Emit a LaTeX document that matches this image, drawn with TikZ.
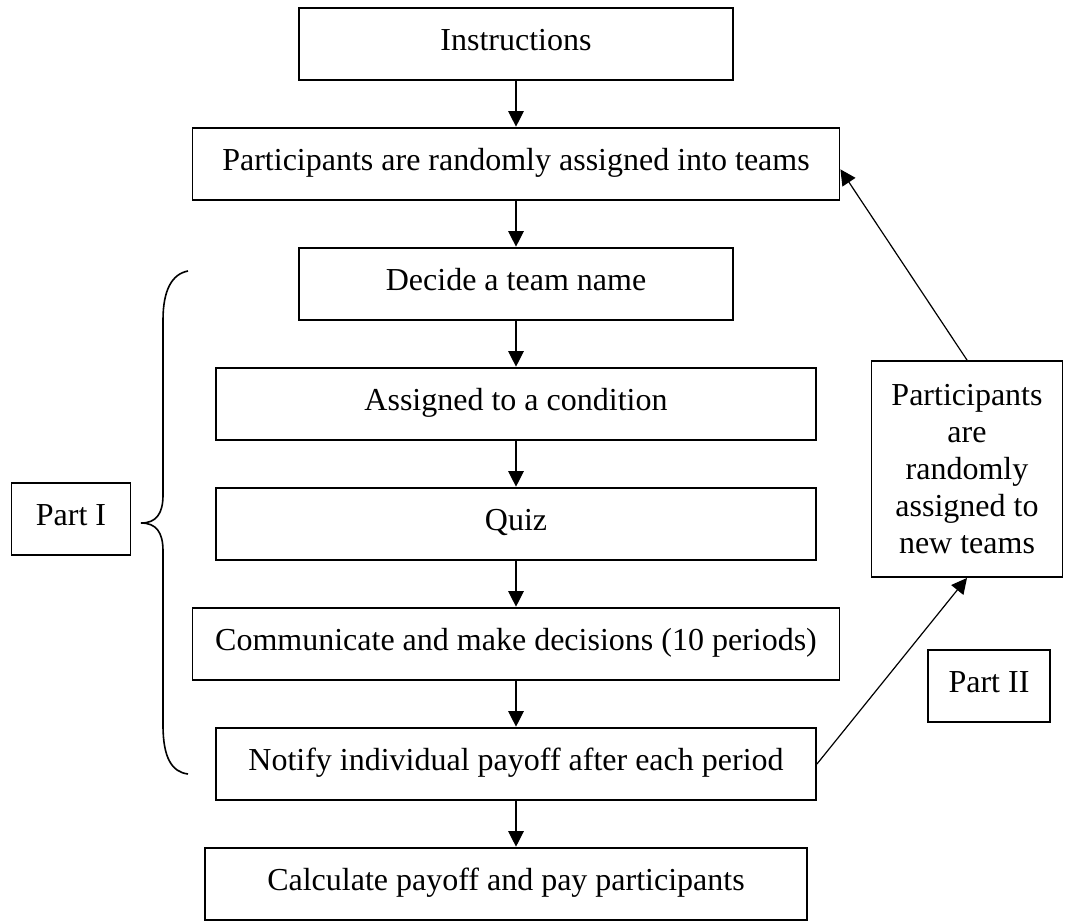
\documentclass[tikz,border=0pt]{standalone}
\usepackage{fontspec}
\setmainfont{Liberation Serif}
\usetikzlibrary{arrows.meta}

\begin{document}
\begin{tikzpicture}[x=0.375pt, y=-0.375pt,
    font=\fontsize{12}{13.9}\selectfont,
    boxline/.style={draw, line width=0.7pt, inner sep=0pt},
    stepbox/.style={boxline, minimum height=27.3pt, text height=8pt, text depth=3.5pt},
    flow/.style={-{Triangle[length=5.8pt,width=5.8pt]}, line width=0.45pt}]

  \useasboundingbox (0,0) rectangle (1065,922);

  % Main column of steps
  \node[stepbox, minimum width=162.8pt] (instr)  at (516,44)  {Instructions};
  \node[stepbox, minimum width=242.6pt] (teams)  at (516,164) {Participants are randomly assigned into teams};
  \node[stepbox, minimum width=162.8pt] (name)   at (516,284) {Decide a team name};
  \node[stepbox, minimum width=225pt]   (cond)   at (516,404) {Assigned to a condition};
  \node[stepbox, minimum width=225pt]   (quiz)   at (516,524) {Quiz};
  \node[stepbox, minimum width=242.6pt] (comm)   at (516,644) {Communicate and make decisions (10 periods)};
  \node[stepbox, minimum width=225pt]   (notify) at (516,764) {Notify individual payoff after each period};
  \node[stepbox, minimum width=226pt]   (calc)   at (506,884) {Calculate payoff and pay participants};

  % Side boxes
  \node[boxline, minimum width=71.6pt, minimum height=81pt, align=center] (regroup) at (967,469)
    {Participants\\are\\randomly\\assigned to\\new teams};
  \node[stepbox, minimum width=44.6pt] (part1) at (71,519) {Part I};
  \node[stepbox, minimum width=45.8pt] (part2) at (989,686) {Part II};

  % Arrows down the column
  \draw[flow] (instr) -- (teams);
  \draw[flow] (teams) -- (name);
  \draw[flow] (name) -- (cond);
  \draw[flow] (cond) -- (quiz);
  \draw[flow] (quiz) -- (comm);
  \draw[flow] (comm) -- (notify);
  \draw[flow] (notify.south) -- (notify.south |- calc.north);

  % Loop back for Part II
  \draw[flow] (notify.east) -- (regroup.south);
  \draw[flow] (regroup.north) -- ([yshift=-2pt]teams.east);

  % Brace for Part I
  \draw[line width=0.6pt] (188,271) .. controls (172,274) and (163,290) .. (163,320)
    -- (163,495) .. controls (163,514) and (156,523) .. (141,523)
    .. controls (156,523) and (163,532) .. (163,551)
    -- (163,725) .. controls (163,758) and (172,772) .. (188,774);

\end{tikzpicture}
\end{document}
